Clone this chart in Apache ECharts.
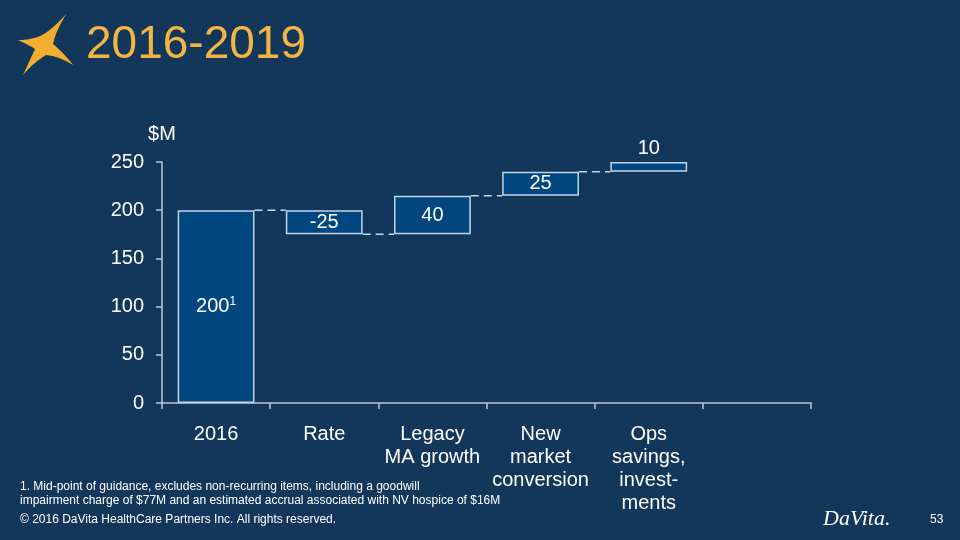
<!DOCTYPE html>
<html>
<head>
<meta charset="utf-8">
<script src="https://cdn.jsdelivr.net/npm/echarts@6/dist/echarts.min.js"></script>
<style>
html,body{margin:0;padding:0;background:#12375b;}
#chart{width:960px;height:540px;}
</style>
</head>
<body>
<div id="chart"></div>
<script>
// ---- data ----
var categories = ['2016', 'Rate', 'Legacy\nMA growth', 'New\nmarket\nconversion', 'Ops\nsavings,\ninvest-\nments', ''];
var startValues = [0, 200, 175, 215, 240];     // level where each step starts
var changes = [200, -25, 40, 25, 10];          // step size
var valueLabels = ['{v|200}{sup|1}', '-25', '40', '25', '10'];
var yTicks = [0, 50, 100, 150, 200, 250];

var lows = [], heights = [], ends = [];
for (var i = 0; i < changes.length; i++) {
  var e = startValues[i] + changes[i];
  lows.push(Math.min(startValues[i], e));
  heights.push(Math.abs(changes[i]));
  ends.push(e);
}

var BG = '#12375b';
var BAR = '#00467f';
var EDGE = '#c3d5e8';
var AXIS = '#b9cadc';
var FONT = 'Liberation Sans, Arial, sans-serif';

// decorative star logo outline (quadratic curves sampled into a polygon)
function starPoints() {
  var segs = [
    [[18, 40], [33, 40], [44, 34]],
    [[44, 34], [56, 26], [67, 13]],
    [[67, 13], [56, 30], [53, 44]],
    [[53, 44], [64, 53], [73, 65]],
    [[73, 65], [59, 56], [46, 55]],
    [[46, 55], [33, 63], [23, 75]],
    [[23, 75], [30, 60], [35, 49]],
    [[35, 49], [27, 44], [18, 40]]
  ];
  var pts = [];
  segs.forEach(function (s) {
    for (var t = 0; t < 1; t += 0.125) {
      var a = (1 - t) * (1 - t), b = 2 * (1 - t) * t, c = t * t;
      pts.push([a * s[0][0] + b * s[1][0] + c * s[2][0], a * s[0][1] + b * s[1][1] + c * s[2][1]]);
    }
  });
  return pts;
}

var chart = echarts.init(document.getElementById('chart'), null, {renderer: 'canvas'});

var connectorData = [];
for (var j = 0; j < ends.length - 1; j++) connectorData.push([j, ends[j]]);

var option = {
  backgroundColor: BG,
  animation: false,
  textStyle: {fontFamily: FONT},
  grid: {left: 162, right: 149, top: 162, bottom: 137},
  xAxis: {
    type: 'category',
    data: categories,
    boundaryGap: true,
    axisLine: {lineStyle: {color: AXIS, width: 1.5}},
    axisTick: {show: true, alignWithLabel: false, length: 6, lineStyle: {color: AXIS, width: 1.5}},
    axisLabel: {color: '#ffffff', fontSize: 20, lineHeight: 23, margin: 20, interval: 0, fontFamily: FONT}
  },
  yAxis: {
    type: 'value',
    min: 0, max: 250, interval: 50,
    name: '$M',
    nameLocation: 'end',
    nameGap: 18,
    nameTextStyle: {color: '#ffffff', fontSize: 20, fontFamily: FONT, align: 'center'},
    axisLine: {show: true, lineStyle: {color: AXIS, width: 1.5}},
    axisTick: {show: true, length: 6, lineStyle: {color: AXIS, width: 1.5}},
    splitLine: {show: false},
    axisLabel: {color: '#ffffff', fontSize: 20, margin: 18, fontFamily: FONT,
      formatter: function (v) { return yTicks.indexOf(v) >= 0 ? String(v) : ''; }}
  },
  series: [
    {
      type: 'bar', stack: 'wf', barWidth: '71%',
      itemStyle: {color: 'transparent', borderColor: 'transparent'},
      emphasis: {disabled: true},
      data: lows
    },
    {
      type: 'bar', stack: 'wf', barWidth: '71%',
      itemStyle: {color: BAR, borderColor: EDGE, borderWidth: 1.5},
      data: heights.map(function (h, k) {
        return {
          value: h,
          label: {
            show: true,
            position: k === heights.length - 1 ? 'top' : 'inside',
            distance: 4,
            formatter: function () { return valueLabels[k]; },
            color: '#ffffff', fontSize: 20, fontFamily: FONT,
            rich: {
              v: {color: '#ffffff', fontSize: 20, fontFamily: FONT},
              sup: {color: '#ffffff', fontSize: 12, fontFamily: FONT, verticalAlign: 'top', padding: [0, 0, 10, 0]}
            }
          }
        };
      })
    },
    {
      type: 'custom',
      silent: true,
      data: connectorData,
      renderItem: function (params, api) {
        var p = api.coord([api.value(0), api.value(1)]);
        var w = api.size([1, 0])[0];
        var half = w * 0.71 / 2;
        return {
          type: 'line',
          shape: {x1: p[0] + half, y1: p[1], x2: p[0] + w - half, y2: p[1]},
          style: {stroke: EDGE, lineWidth: 1.5, lineDash: [8, 5]}
        };
      },
      z: 1
    }
  ],
  graphic: [
    {
      type: 'polygon',
      shape: {points: starPoints()},
      style: {fill: '#f4ae2e'}
    },
    {
      type: 'text', left: 86, top: 22,
      style: {text: '2016-2019', fill: '#f4b542', font: '46px ' + FONT}
    },
    {
      type: 'text', left: 20, top: 480,
      style: {text: '1. Mid-point of guidance, excludes non-recurring items, including a goodwill\nimpairment charge of $77M and an estimated accrual associated with NV hospice of $16M',
        fill: '#ffffff', font: '12px ' + FONT, lineHeight: 14}
    },
    {
      type: 'text', left: 20, top: 514,
      style: {text: '\u00a9 2016 DaVita HealthCare Partners Inc. All rights reserved.', fill: '#ffffff', font: '12px ' + FONT}
    },
    {
      type: 'text', left: 823, top: 508,
      style: {text: 'DaVita.', fill: '#ffffff', font: 'italic 22px Liberation Serif, serif'}
    },
    {
      type: 'text', left: 930, top: 514,
      style: {text: '53', fill: '#ffffff', font: '12px ' + FONT}
    }
  ]
};
chart.setOption(option);
</script>
</body>
</html>
